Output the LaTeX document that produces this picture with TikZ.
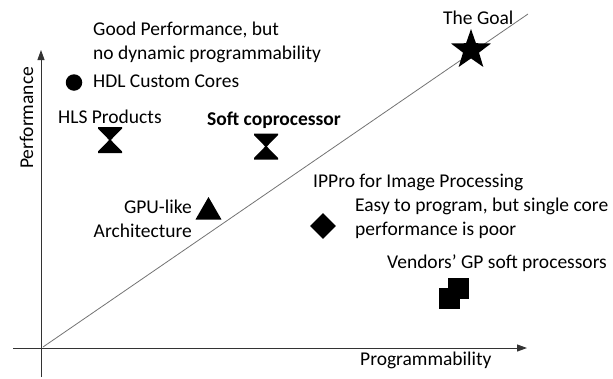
\documentclass[tikz,border=0pt]{standalone}
\usepackage{fontspec}
\setmainfont{Carlito}
\usetikzlibrary{arrows.meta, shapes.geometric}

\begin{document}
\begin{tikzpicture}[
        x=1pt, y=-1pt,
        every node/.style={font=\fontsize{19.5}{24}\selectfont, inner sep=0pt},
        label/.style={anchor=base west, align=left},
        marker/.style={fill=black, draw=none, inner sep=0pt},
        axis/.style={
            -{Triangle[length=10pt, width=7pt]},
            line width=1pt,
            draw=black!80
        },
        trend/.style={
            line width=0.8pt,
            draw=black!55
        },
        hourglass/.pic={
            \fill (-12,-13) -- (12,-13) -- (12,-11.5) -- (0.8,0)
                -- (12,11.5) -- (12,13) -- (-12,13) -- (-12,11.5)
                -- (-0.8,0) -- (-12,-11.5) -- cycle;
        }
    ]

    \useasboundingbox (0,0) rectangle (613,378);

    % Axes
    \coordinate (ybot) at (41,377);
    \coordinate (ytop) at (41,50);
    \coordinate (xleft) at (13,348);
    \coordinate (xright) at (527,348);
    \coordinate (trendstart) at (43,347);
    \coordinate (trendend) at (528,14);

    \draw[axis] (ybot) -- (ytop);
    \draw[axis] (xleft) -- (xright);
    \draw[trend] (trendstart) -- (trendend);

    % Axis labels
    \node[anchor=base, rotate=90] (perf) at (33,118) {Performance};
    \node[anchor=base west] (prog) at (360,365) {Programmability};

    % HDL custom cores
    \node[label] (good) at (93,59)
        {Good Performance, but\\
         no dynamic programmability};
    \node[marker, circle, minimum size=16.5pt] (hdl) at (74,82.5) {};
    \node[anchor=base west] (hdltext) at (93,87) {HDL Custom Cores};

    % HLS products
    \node[anchor=base west] (hls) at (58,123) {HLS Products};
    \pic at (110,140) {hourglass};

    % Soft coprocessor
    \node[anchor=base west, font=\fontsize{19.5}{24}\selectfont\bfseries]
        (soft) at (207,125) {Soft coprocessor};
    \pic at (266,146.5) {hourglass};

    % The goal
    \node[anchor=base west] (goaltext) at (443,24) {The Goal};
    \node[marker, star, star points=5, star point ratio=2.5,
        minimum size=42pt] (goal) at (471,50) {};

    % GPU-like architecture
    \node[anchor=base east, align=right] (gpu) at (192,237)
        {GPU-like\\
         Architecture};
    \node[marker, regular polygon, regular polygon sides=3,
        minimum size=30pt] (gpumark) at (208.5,212) {};

    % IPPro
    \node[anchor=base west] (ippro) at (313,187) {IPPro for Image Processing};
    \node[label] (easy) at (355,235)
        {Easy to program, but single core\\
         performance is poor};
    \node[marker, diamond, aspect=1, minimum size=26pt] (ipmark) at (323,226) {};

    % Vendors' soft processors
    \node[anchor=base west] (vendors) at (387,268) {Vendors’ GP soft processors};
    \node[marker, rectangle, minimum size=21pt] (gpback) at (458.5,288) {};
    \node[marker, rectangle, minimum size=21pt] (gpfront) at (449.5,298) {};

\end{tikzpicture}
\end{document}
